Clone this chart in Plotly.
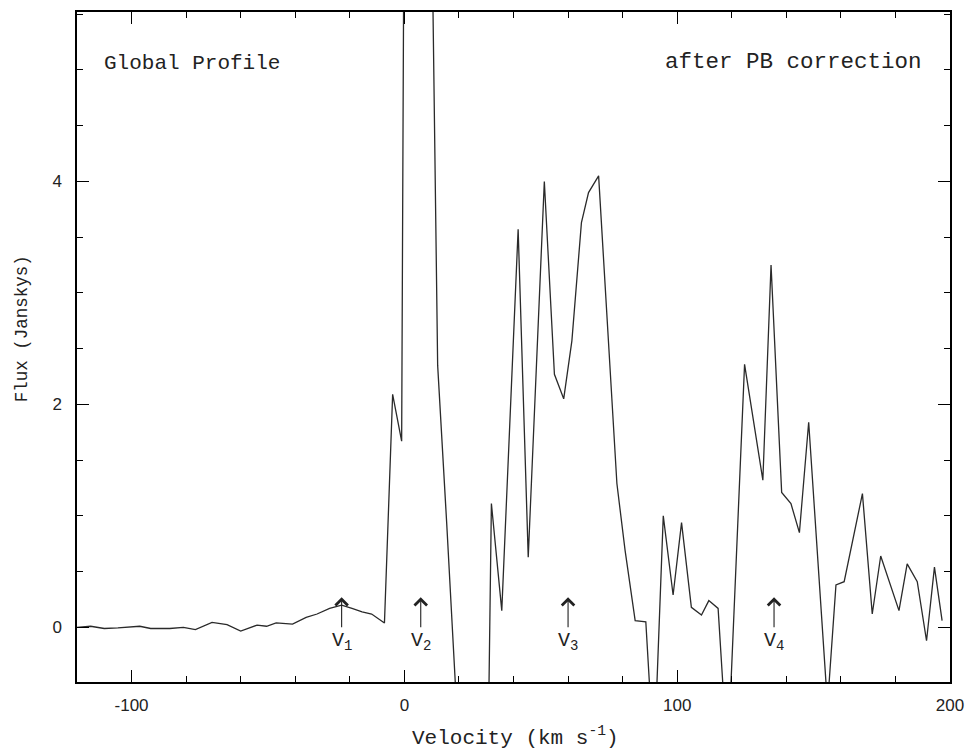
import plotly.graph_objects as go

# ---- data ----
velocity = [-120, -115, -110, -105, -97, -93, -86, -81, -76.6, -70.5, -65, -60, -54, -50.5, -47, -41,
            -36, -32, -27.4, -23, -19.2, -15.5, -12, -7.3, -4.3, -1.0, 2.3, 5.6, 8.9, 12.2, 15.5, 18.8,
            22.1, 25.4, 28.6, 31.9, 35.7, 41.7, 45.4, 51.3, 55.0, 58.4, 61.4, 64.9, 67.5, 71.2, 74.5,
            77.9, 80.9, 84.6, 88.5, 91.5, 94.9, 98.5, 101.6, 105.2, 108.9, 111.6, 115.0, 118.5, 124.7,
            131.4, 134.4, 138.3, 141.7, 144.8, 148.2, 155.1, 158.2, 161.2, 167.9, 171.5, 174.6, 181.3,
            184.3, 188.0, 191.4, 194.3, 197.1]
flux = [0.00, 0.01, -0.01, -0.005, 0.01, -0.01, -0.01, 0.0, -0.02, 0.045, 0.025, -0.033, 0.02, 0.01, 0.04, 0.03,
        0.09, 0.12, 0.17, 0.20, 0.17, 0.14, 0.12, 0.04, 2.09, 1.67, 20.0, 24.0, 8.5, 2.35, 0.94, -0.47,
        -2.0, -3.0, -5.0, 1.11, 0.15, 3.57, 0.63, 4.00, 2.27, 2.05, 2.57, 3.63, 3.90, 4.05, 2.70,
        1.29, 0.69, 0.06, 0.05, -1.2, 1.00, 0.29, 0.94, 0.18, 0.11, 0.24, 0.17, -1.2, 2.36,
        1.32, 3.25, 1.21, 1.11, 0.85, 1.84, -0.7, 0.38, 0.41, 1.20, 0.12, 0.64, 0.15,
        0.57, 0.41, -0.12, 0.54, 0.06]

marker_labels = ["V<sub>1</sub>", "V<sub>2</sub>", "V<sub>3</sub>", "V<sub>4</sub>"]
marker_velocity = [-23, 6, 60, 135.5]

x_ticks = [-100, 0, 100, 200]
x_ticktext = ["-100", "0", "100", "200"]
y_ticks = [0, 2, 4]
y_ticktext = ["0", "2", "4"]

title_left = "Global Profile"
title_right = "after PB correction"
x_title = "Velocity (km s<sup>-1</sup>)"
y_title = "Flux (Janskys)"

serif_mono = "Liberation Mono, Courier New, monospace"
sans = "Liberation Sans, Arial, sans-serif"

fig = go.Figure()
fig.add_trace(go.Scatter(x=velocity, y=flux, mode="lines",
                         line=dict(color="#2a2a2a", width=1.3), hoverinfo="skip",
                         showlegend=False))

axis_common = dict(
    showgrid=False, zeroline=False, showline=True, linecolor="black", linewidth=1.5,
    mirror="allticks", ticks="inside", tickcolor="black", tickwidth=1.2, ticklen=12,
    tickfont=dict(family=sans, size=17, color="#222"),
)

fig.update_xaxes(range=[-120, 200], tickmode="array", tickvals=x_ticks, ticktext=x_ticktext,
                 minor=dict(dtick=20, tick0=0, ticks="inside", ticklen=6, tickcolor="black", tickwidth=1),
                 ticklabelstandoff=7, **axis_common)
fig.update_yaxes(range=[-0.49, 5.52], tickmode="array", tickvals=y_ticks, ticktext=y_ticktext,
                 minor=dict(dtick=0.5, tick0=0, ticks="inside", ticklen=6, tickcolor="black", tickwidth=1),
                 ticklabelstandoff=10, **axis_common)

ann = []
ann.append(dict(text=title_left, x=(102 - 77) / 875, y=(682 - 62) / 672, xref="paper", yref="paper",
                xanchor="left", yanchor="middle", showarrow=False,
                font=dict(family=serif_mono, size=21, color="#222")))
ann.append(dict(text=title_right, x=(926 - 77) / 875, y=(682 - 60) / 672, xref="paper", yref="paper",
                xanchor="right", yanchor="middle", showarrow=False,
                font=dict(family=serif_mono, size=22.5, color="#222")))
ann.append(dict(text=x_title, x=(517 - 77) / 875, y=(682 - 737) / 672, xref="paper", yref="paper",
                xanchor="center", yanchor="middle", showarrow=False,
                font=dict(family=serif_mono, size=21, color="#222")))
ann.append(dict(text=y_title, x=(22 - 77) / 875, y=(682 - 328) / 672, xref="paper", yref="paper",
                xanchor="center", yanchor="middle", showarrow=False, textangle=-90,
                font=dict(family=serif_mono, size=17.5, color="#222")))

for lab, v in zip(marker_labels, marker_velocity):
    ann.append(dict(text=lab, x=v, y=0.27, xref="x", yref="y", ax=0, ay=44,
                    showarrow=True, arrowhead=4, arrowsize=2.2, arrowwidth=1.1, arrowcolor="#222",
                    standoff=0, startstandoff=0,
                    font=dict(family=serif_mono, size=20, color="#222")))

fig.update_layout(
    width=974, height=753, margin=dict(l=77, r=22, t=10, b=71),
    paper_bgcolor="white", plot_bgcolor="white", annotations=ann,
)

fig.write_html("out.html")
